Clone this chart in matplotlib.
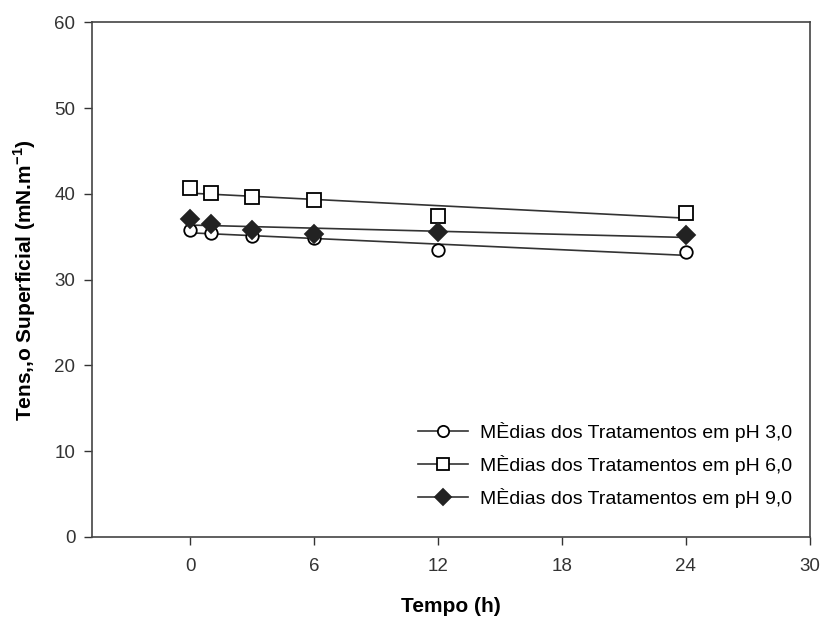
import numpy as np
import matplotlib
matplotlib.use("Agg")
import matplotlib.pyplot as plt

plt.rcParams['font.family'] = ['Liberation Sans', 'DejaVu Sans']
plt.rcParams['mathtext.fontset'] = 'custom'
plt.rcParams['mathtext.rm'] = 'Liberation Sans'
plt.rcParams['mathtext.bf'] = 'Liberation Sans:bold'

tempo = [0, 1, 3, 6, 12, 24]
ph3 = [35.8, 35.4, 35.1, 34.8, 33.4, 33.2]
ph6 = [40.7, 40.1, 39.6, 39.3, 37.4, 37.8]
ph9 = [37.1, 36.5, 35.8, 35.3, 35.5, 35.2]

rotulos = ["MÈdias dos Tratamentos em pH 3,0",
           "MÈdias dos Tratamentos em pH 6,0",
           "MÈdias dos Tratamentos em pH 9,0"]

fig = plt.figure(figsize=(8.22, 6.19), dpi=100)
ax = fig.add_axes([0.112, 0.1325, 0.873, 0.8315])

estilos = [
    dict(marker='o', mfc='white', mec='black', ms=9),
    dict(marker='s', mfc='white', mec='black', ms=10),
    dict(marker='D', mfc='#222222', mec='#222222', ms=9),
]

x = np.array(tempo, dtype=float)
for serie, est, rot in zip([ph3, ph6, ph9], estilos, rotulos):
    # reta de regressao ajustada aos pontos
    a, b = np.polyfit(x, serie, 1)
    xs = np.array([x.min(), x.max()])
    ax.plot(xs, a * xs + b, color='#333333', lw=1.2, zorder=2)
    ax.plot(x, serie, ls='none', mew=1.3, zorder=3, **est)
    ax.plot([], [], color='#333333', lw=1.2, label=rot, mew=1.3, **est)

ax.set_xlim(-4.75, 30)
ax.set_ylim(0, 60)
ax.set_xticks([0, 6, 12, 18, 24, 30])
ax.set_yticks(range(0, 61, 10))
ax.tick_params(direction='out', length=6, width=1, labelsize=13.5, colors='#333333')
ax.tick_params(axis='x', pad=9)
ax.tick_params(axis='y', pad=6)
for s in ax.spines.values():
    s.set_color('#444444')
    s.set_linewidth(1.2)

ax.set_xlabel("Tempo (h)", fontsize=15, fontweight='bold', labelpad=16)
ax.set_ylabel("Tens,,o Superficial (mN.m$^{\\mathbf{-1}}$)", fontsize=15, fontweight='bold', labelpad=12)

leg = ax.legend(loc='lower right', bbox_to_anchor=(1.0, 0.022), frameon=False,
                fontsize=14, handlelength=2.6, labelspacing=0.68, markerscale=0.9,
                handletextpad=0.6)

fig.savefig("out.png", dpi=100)
